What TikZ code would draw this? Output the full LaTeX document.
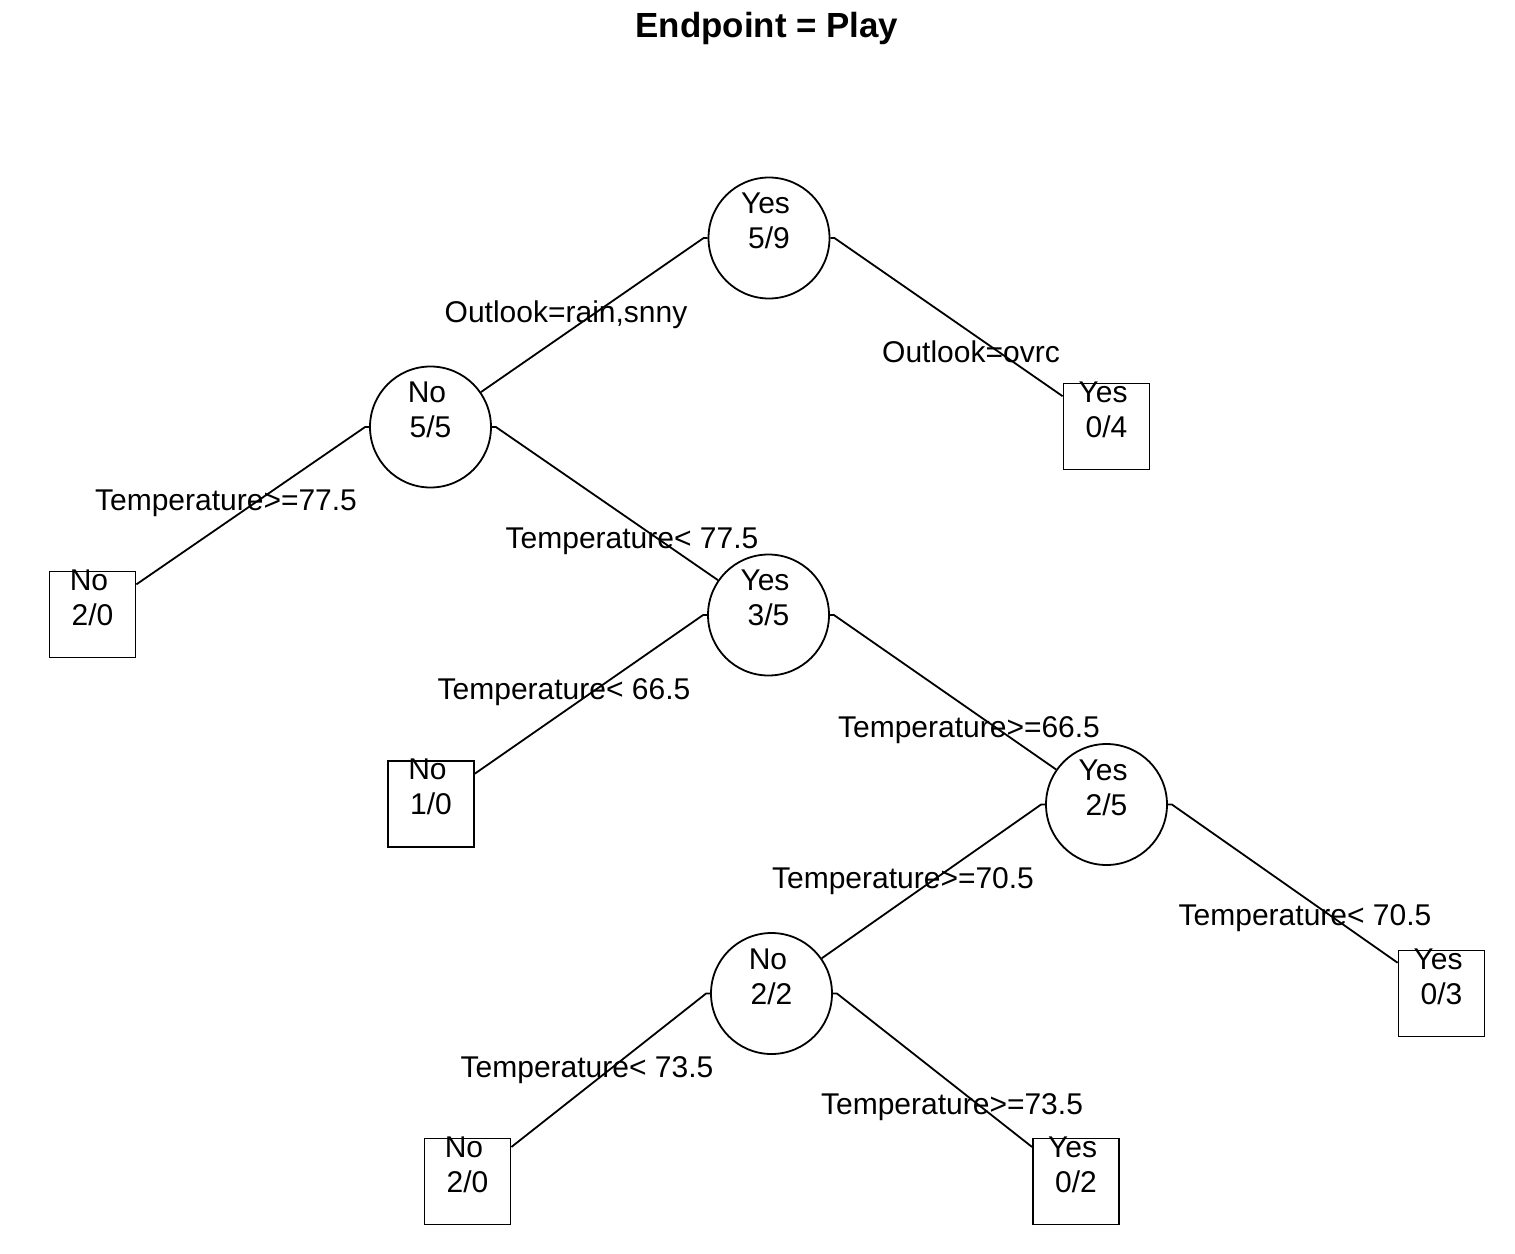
\documentclass[tikz,border=0pt]{standalone}
\usepackage{fontspec}
\setmainfont{Liberation Sans}
\begin{document}
\begin{tikzpicture}[x=1pt,y=-1pt,
  leaf/.style={draw, rectangle, line width=1.8pt, minimum size=86pt, inner sep=0pt},
  split/.style={draw, circle, line width=1.8pt, minimum size=121pt, inner sep=0pt},
  lab/.style={font=\fontsize{30}{35}\selectfont, inner sep=0pt, text height=21.5pt, text depth=0pt},
  edge/.style={line width=1.8pt}]
\useasboundingbox (0,0) rectangle (1515,1253);
\node[font=\fontsize{34.9}{40}\bfseries\selectfont, inner sep=0pt, text height=25pt, text depth=0pt] (title) at (767,25) {Endpoint = Play};
% tree nodes
\node[split] (n1) at (769,238) {};
\node[split] (n2) at (430.5,427) {};
\node[leaf] (n3) at (1106.5,426.5) {};
\node[leaf] (n4) at (92.5,614.5) {};
\node[split] (n5) at (768.5,615) {};
\node[leaf] (n6) at (431,804) {};
\node[split] (n7) at (1106.5,804.5) {};
\node[split] (n8) at (771.5,993.5) {};
\node[leaf] (n9) at (1441.5,993.5) {};
\node[leaf] (n10) at (467.5,1181.5) {};
\node[leaf] (n11) at (1076,1181.5) {};
% node texts
\foreach \n/\a/\b in {n1/Yes/5\slash9, n2/No/5\slash5, n3/Yes/0\slash4, n4/No/2\slash0, n5/Yes/3\slash5, n6/No/1\slash0, n7/Yes/2\slash5, n8/No/2\slash2, n9/Yes/0\slash3, n10/No/2\slash0, n11/Yes/0\slash2}{
  \node[lab] (\n a) at ([xshift=-3.5pt,yshift=35pt]\n.center) {\a};
  \node[lab] (\n b) at (\n.center) {\b};
}
% edges
\draw[edge] (n1.west) -- ++(-4,0) -- (n2);
\draw[edge] (n1.east) -- ++(4,0) -- (n3);
\draw[edge] (n2.west) -- ++(-4,0) -- (n4);
\draw[edge] (n2.east) -- ++(4,0) -- (n5);
\draw[edge] (n5.west) -- ++(-4,0) -- (n6);
\draw[edge] (n5.east) -- ++(4,0) -- (n7);
\draw[edge] (n7.west) -- ++(-4,0) -- (n8);
\draw[edge] (n7.east) -- ++(4,0) -- (n9);
\draw[edge] (n8.west) -- ++(-4,0) -- (n10);
\draw[edge] (n8.east) -- ++(4,0) -- (n11);
% edge labels
\node[lab] (e1) at (566,312) {Outlook=rain,snny};
\node[lab] (e2) at (971,352) {Outlook=ovrc};
\node[lab] (e3) at (226,500) {Temperature>=77.5};
\node[lab] (e4) at (632,538) {Temperature< 77.5};
\node[lab] (e5) at (564,689) {Temperature< 66.5};
\node[lab] (e6) at (969,727) {Temperature>=66.5};
\node[lab] (e7) at (903,878) {Temperature>=70.5};
\node[lab] (e8) at (1305,915) {Temperature< 70.5};
\node[lab] (e9) at (587,1067) {Temperature< 73.5};
\node[lab] (e10) at (952,1104) {Temperature>=73.5};
\end{tikzpicture}
\end{document}
